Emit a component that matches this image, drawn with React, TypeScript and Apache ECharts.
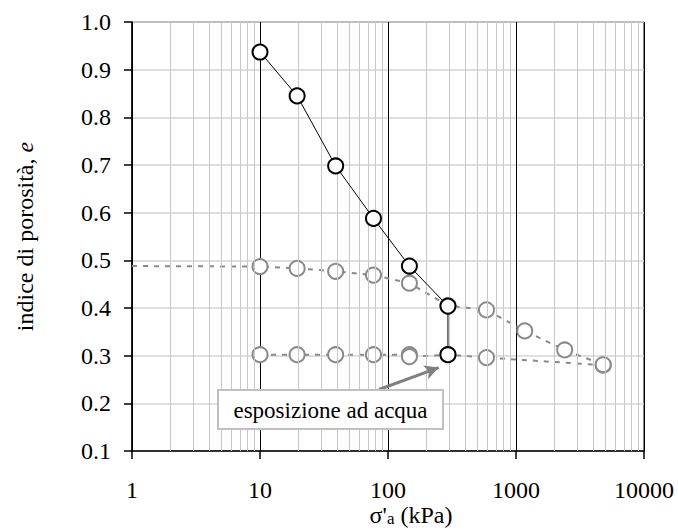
import React, { useEffect, useRef } from "react";
import * as echarts from "echarts";

const loadingX = [10, 19.5, 39, 77, 147, 294, 294];
const loadingE = [0.937, 0.845, 0.698, 0.588, 0.488, 0.404, 0.302];

const upperX = [1, 10, 19.5, 39, 77, 147, 294, 588, 1170, 2400, 4800];
const upperE = [0.488, 0.487, 0.483, 0.477, 0.469, 0.452, 0.405, 0.396, 0.352, 0.312, 0.281];

const lowerX = [10, 19.5, 39, 77, 147, 147, 294, 588, 4800];
const lowerE = [0.302, 0.302, 0.302, 0.302, 0.302, 0.298, 0.302, 0.296, 0.28];

const yTicks = ["0.1", "0.2", "0.3", "0.4", "0.5", "0.6", "0.7", "0.8", "0.9", "1.0"];
const decades = [1, 10, 100, 1000];
const minorSteps = [2, 3, 4, 5, 6, 7, 8, 9];

const arrowFrom = [85, 0.229];
const arrowTo = [249, 0.275];
const noteText = "esposizione ad acqua";

const FONT = "Liberation Serif";

export default function App() {
  const ref = useRef<HTMLDivElement>(null);
  useEffect(() => {
    if (!ref.current) return;
    const chart = echarts.init(ref.current, undefined, { renderer: "svg" });
    const minorLines: number[] = [];
    decades.forEach((d) => minorSteps.forEach((m) => minorLines.push(d * m)));

    const circle = (stroke: string) => ({
      color: "#ffffff",
      borderColor: stroke,
      borderWidth: 2,
    });

    chart.setOption({
      animation: false,
      backgroundColor: "#ffffff",
      textStyle: { fontFamily: FONT },
      grid: {
        left: 132,
        right: 34,
        top: 22,
        bottom: 80,
        show: true,
        borderColor: "#000",
        borderWidth: 1,
        backgroundColor: "transparent",
      },
      xAxis: {
        type: "log",
        logBase: 10,
        min: 1,
        max: 10000,
        axisLine: { show: true, onZero: false, lineStyle: { color: "#000", width: 1.5 } },
        axisTick: { show: true, inside: false, length: 8, lineStyle: { color: "#000", width: 1.5 } },
        axisLabel: {
          fontSize: 24,
          color: "#000",
          margin: 27,
          fontFamily: FONT,
          formatter: (v: number) => String(Math.round(v)),
        },
        splitLine: { show: true, lineStyle: { color: "#000", width: 1 } },
        minorTick: { show: false },
        minorSplitLine: { show: false },
      },
      yAxis: {
        type: "value",
        min: 0.1,
        max: 1.0,
        interval: 0.1,
        name: "{a|indice di porosità, }{b|e}",
        nameLocation: "middle",
        nameGap: 95,
        nameRotate: 90,
        nameTextStyle: {
          rich: {
            a: { fontSize: 24, fontFamily: FONT, color: "#000" },
            b: { fontSize: 24, fontFamily: FONT, color: "#000", fontStyle: "italic" },
          },
        },
        axisLine: { show: true, lineStyle: { color: "#000", width: 1.5 } },
        axisTick: { show: true, inside: false, length: 8, lineStyle: { color: "#000", width: 1.5 } },
        axisLabel: {
          fontSize: 24,
          color: "#000",
          margin: 21,
          fontFamily: FONT,
          formatter: (v: number) => yTicks[Math.round(v * 10) - 1] ?? v.toFixed(1),
        },
        splitLine: { show: true, lineStyle: { color: "#d4d4d4", width: 1.5 } },
      },
      series: [
        {
          type: "line",
          name: "minor",
          data: [],
          silent: true,
          z: 1,
          markLine: {
            silent: true,
            symbol: ["none", "none"],
            label: { show: false },
            lineStyle: { color: "#c8c8c8", width: 1, type: "solid" },
            data: minorLines.map((v) => ({ xAxis: v })),
          },
        },
        {
          type: "line",
          name: "lower",
          z: 3,
          data: lowerX.map((x, i) => [x, lowerE[i]]),
          symbol: "circle",
          symbolSize: 15,
          itemStyle: circle("#8a8a8a"),
          lineStyle: { color: "#8a8a8a", width: 2, type: [5, 6] },
        },
        {
          type: "line",
          name: "upper",
          z: 3,
          data: upperX.map((x, i) =>
            i === 0 ? { value: [x, upperE[i]], symbol: "none" } : [x, upperE[i]]
          ),
          symbol: "circle",
          symbolSize: 15,
          itemStyle: circle("#8a8a8a"),
          lineStyle: { color: "#8a8a8a", width: 2, type: [5, 6] },
          markLine: {
            silent: true,
            symbol: ["none", "arrow"],
            symbolSize: [11, 14],
            label: { show: false },
            lineStyle: { color: "#808080", width: 3, type: "solid" },
            data: [[{ coord: arrowFrom }, { coord: arrowTo }]],
          },
        },
        {
          type: "line",
          name: "loading",
          z: 5,
          data: loadingX.map((x, i) => [x, loadingE[i]]),
          symbol: "circle",
          symbolSize: 15,
          itemStyle: circle("#000"),
          lineStyle: { color: "#000", width: 1 },
        },
      ],
      graphic: [
        {
          type: "rect",
          z: 100,
          shape: { x: 218, y: 390, width: 225, height: 39 },
          style: { fill: "#ffffff", stroke: "#c0c0c0", lineWidth: 2 },
        },
        {
          type: "text",
          z: 101,
          x: 330.5,
          y: 410,
          style: {
            text: noteText,
            fontSize: 23,
            fontFamily: FONT,
            fill: "#000",
            align: "center",
            verticalAlign: "middle",
          },
        },
        {
          type: "text",
          z: 101,
          x: 411,
          y: 515,
          style: {
            text: "{s|σ'}{a|a}{n| (kPa)}",
            align: "center",
            verticalAlign: "middle",
            fontFamily: FONT,
            fontSize: 24,
            rich: {
              s: { fontSize: 24, fontFamily: FONT, fill: "#000" },
              a: { fontSize: 17, fontFamily: FONT, fill: "#000", verticalAlign: "bottom" },
              n: { fontSize: 24, fontFamily: FONT, fill: "#000" },
            },
          },
        },
      ],
    });
    return () => chart.dispose();
  }, []);
  return <div ref={ref} style={{ width: 678, height: 531, position: "absolute", left: 0, top: 0 }} />;
}
